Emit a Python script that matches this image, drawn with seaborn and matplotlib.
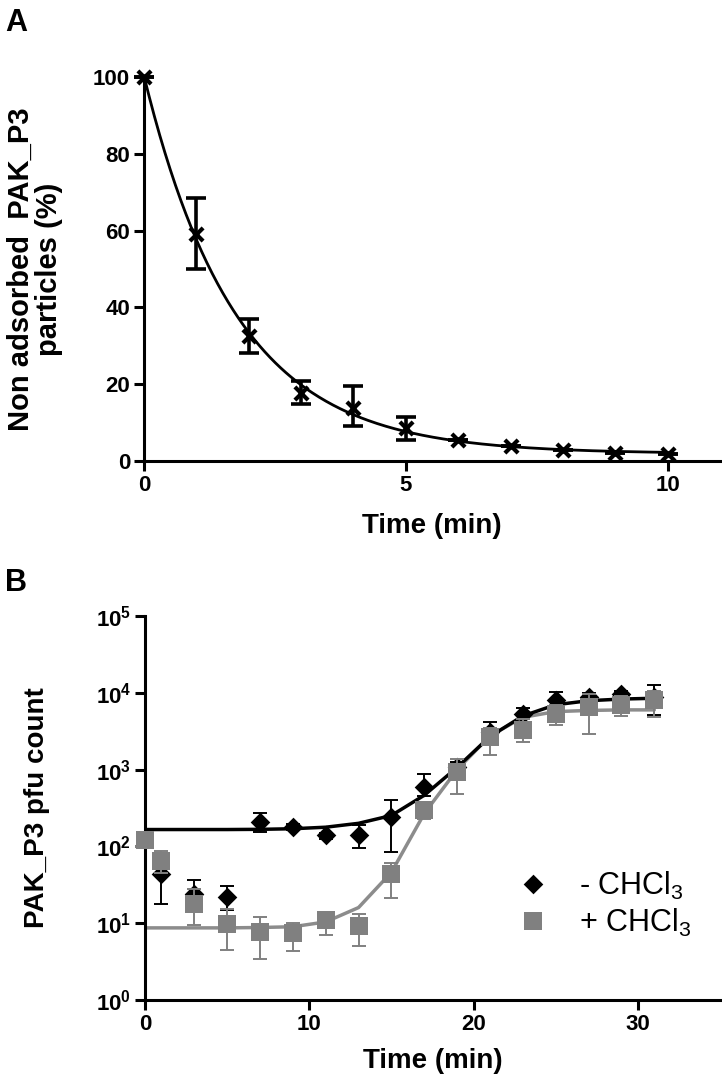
import numpy as np
import pandas as pd
import seaborn as sns
import matplotlib.pyplot as plt
from matplotlib.ticker import FixedLocator, FuncFormatter, NullLocator

# ---- panel A: adsorption kinetics ----
time_a = [0, 1, 2, 3, 4, 5, 6, 7, 8, 9, 10]
mean_a = [100, 59, 32.5, 17.8, 13.7, 8.5, 5.5, 3.9, 2.9, 2.0, 1.8]
low_a = [100, 50, 28, 14.8, 9.1, 5.5, 5.5, 3.9, 2.9, 2.0, 1.8]
high_a = [100, 68.4, 37.1, 20.9, 19.5, 11.5, 5.5, 3.9, 2.9, 2.0, 1.8]

# ---- panel B: one-step growth ----
time_minus = [1, 3, 5, 7, 9, 11, 13, 15, 17, 19, 21, 23, 25, 27, 29, 31]
pfu_minus = [44, 24, 22, 211, 179, 139, 139, 241, 594, 1070, 3100, 5380, 8000, 8880, 9600, 8880]
low_minus = [18, 15, 15, 154, 165, 125, 95, 84, 450, 900, 2500, 4500, 6000, 7000, 8500, 5100]
high_minus = [55, 37, 30.5, 272, 195, 150, 188, 400, 870, 1250, 4180, 6360, 10300, 10000, 10500, 12600]

time_plus = [0, 1, 3, 5, 7, 9, 11, 13, 15, 17, 19, 21, 23, 25, 27, 29, 31]
pfu_plus = [122, 65, 18, 9.8, 7.6, 7.4, 11, 9.1, 44, 296, 935, 2670, 3260, 5380, 6580, 6900, 8000]
low_plus = [110, 45, 9.5, 4.5, 3.4, 4.3, 7.1, 5, 21, 230, 487, 1540, 2290, 3790, 2950, 5000, 4870]
high_plus = [135, 87, 28, 15.4, 12, 10, 13.9, 13, 61, 380, 1390, 3500, 4500, 7000, 9800, 9000, 10500]

# fitted curves as drawn in the figure
fit_time_b = [0, 1, 3, 5, 7, 9, 11, 13, 15, 17, 19, 21, 23, 25, 27, 29, 31]
fit_minus = [166, 166, 166, 166, 167, 170, 178, 200, 253, 464, 1070, 2700, 5000, 7000, 7900, 8300, 8500]
fit_plus = [8.7, 8.7, 8.7, 8.7, 8.8, 9.0, 10.4, 16, 46, 268, 1000, 2750, 4800, 5700, 5900, 6000, 6000]

GREY = '#808080'

sns.set_style("ticks")
plt.rcParams['font.family'] = ['Liberation Sans', 'DejaVu Sans']
plt.rcParams['mathtext.fontset'] = 'custom'
plt.rcParams['mathtext.rm'] = 'Liberation Sans'
plt.rcParams['mathtext.bf'] = 'Liberation Sans:bold'
plt.rcParams['axes.linewidth'] = 2.2
for key in ['text.color', 'axes.labelcolor', 'xtick.color', 'ytick.color', 'axes.edgecolor']:
    plt.rcParams[key] = 'black'

fig = plt.figure(figsize=(7.22, 10.89), dpi=100)
ax_a = fig.add_axes([0.1994, 0.5767, 0.7978, 0.3526])
ax_b = fig.add_axes([0.2008, 0.0817, 0.7964, 0.3526])

# exponential one-phase decay fit for panel A (least squares over k)
t = np.array(time_a, dtype=float)
y = np.array(mean_a, dtype=float)
best = None
for k in np.linspace(0.1, 1.5, 1401):
    X = np.column_stack([np.exp(-k * t), np.ones_like(t)])
    coef, *_ = np.linalg.lstsq(X, y, rcond=None)
    sse = np.sum((X @ coef - y) ** 2)
    if best is None or sse < best[0]:
        best = (sse, k, coef)
_, k_fit, (amp, plat) = best
t_fit = np.linspace(0, 10, 300)
df_fit_a = pd.DataFrame({'t': t_fit, 'y': amp * np.exp(-k_fit * t_fit) + plat})

sns.lineplot(data=df_fit_a, x='t', y='y', color='black', lw=2.0, ax=ax_a)
ax_a.errorbar(time_a, mean_a,
              yerr=[np.array(mean_a) - np.array(low_a), np.array(high_a) - np.array(mean_a)],
              fmt='none', ecolor='black', elinewidth=2.6, capsize=7, capthick=2.6,
              clip_on=False, zorder=3)
sns.scatterplot(x=time_a, y=mean_a, marker='x', s=90, color='black',
                linewidth=3, ax=ax_a, clip_on=False, zorder=4)

ax_a.set_xlim(0, 11)
ax_a.set_ylim(0, 100)
ax_a.xaxis.set_major_locator(FixedLocator([0, 5, 10]))
ax_a.yaxis.set_major_locator(FixedLocator([0, 20, 40, 60, 80, 100]))
ax_a.set_xlabel('Time (min)', fontsize=20, fontweight='bold')
ax_a.set_ylabel('Non adsorbed  PAK_P3\nparticles (%)', fontsize=21,
                fontweight='bold', linespacing=1.0)
ax_a.xaxis.set_label_coords(0.5, -0.135)
ax_a.yaxis.set_label_coords(-0.14, 0.5)

# panel B
sns.lineplot(x=fit_time_b, y=fit_plus, color='#8c8c8c', lw=2.5, ax=ax_b)
sns.lineplot(x=fit_time_b, y=fit_minus, color='black', lw=2.5, ax=ax_b)
ax_b.errorbar(time_minus, pfu_minus,
              yerr=[np.array(pfu_minus) - np.array(low_minus), np.array(high_minus) - np.array(pfu_minus)],
              fmt='none', ecolor='black', elinewidth=1.4, capsize=5, capthick=1.4,
              clip_on=False, zorder=3)
h_minus = ax_b.scatter(time_minus, pfu_minus, marker='D', s=100, color='black',
                       linewidth=0, clip_on=False, zorder=4, label='- CHCl$_3$')
ax_b.errorbar(time_plus, pfu_plus,
              yerr=[np.array(pfu_plus) - np.array(low_plus), np.array(high_plus) - np.array(pfu_plus)],
              fmt='none', ecolor=GREY, elinewidth=1.4, capsize=5, capthick=1.4,
              clip_on=False, zorder=5)
h_plus = ax_b.scatter(time_plus, pfu_plus, marker='s', s=150, color=GREY,
                      linewidth=0, clip_on=False, zorder=6, label='+ CHCl$_3$')

ax_b.set_yscale('log')
ax_b.set_xlim(0, 35)
ax_b.set_ylim(1, 1e5)
ax_b.xaxis.set_major_locator(FixedLocator([0, 10, 20, 30]))
ax_b.yaxis.set_major_locator(FixedLocator([1, 10, 100, 1e3, 1e4, 1e5]))
ax_b.yaxis.set_minor_locator(NullLocator())
ax_b.yaxis.set_major_formatter(FuncFormatter(
    lambda v, p: r'$\mathbf{10^{%d}}$' % int(round(np.log10(v)))))
ax_b.set_xlabel('Time (min)', fontsize=20, fontweight='bold')
ax_b.set_ylabel('PAK_P3 pfu count', fontsize=20, fontweight='bold')
ax_b.xaxis.set_label_coords(0.5, -0.125)
ax_b.yaxis.set_label_coords(-0.165, 0.5)

ax_b.legend(handles=[h_minus, h_plus], loc='upper left', bbox_to_anchor=(0.6, 0.37),
            frameon=False, fontsize=22, handletextpad=0.5, labelspacing=0.15,
            borderaxespad=0, scatteryoffsets=[0.5])

for ax in (ax_a, ax_b):
    sns.despine(ax=ax)
    ax.tick_params(axis='both', which='major', length=7, width=2.2,
                   labelsize=16, direction='out', pad=3)
    for lab in ax.get_xticklabels() + ax.get_yticklabels():
        lab.set_fontweight('bold')

fig.text(0.007, 0.993, 'A', fontsize=22, fontweight='bold', va='top', ha='left')
fig.text(0.007, 0.478, 'B', fontsize=22, fontweight='bold', va='top', ha='left')

fig.savefig('out.png', dpi=100)
